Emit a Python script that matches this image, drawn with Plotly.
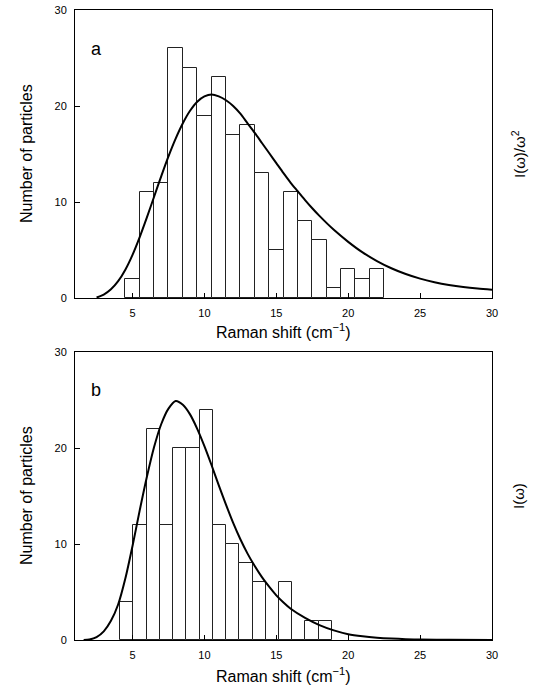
import plotly.graph_objects as go

# ---------------- data ----------------
# Panel a: histogram (bins of width 1 centred on integers)
a_bin_centers = [5, 6, 7, 8, 9, 10, 11, 12, 13, 14, 15, 16, 17, 18, 19, 20, 21, 22]
a_counts = [2, 11, 12, 26, 24, 19, 23, 17, 18, 13, 5, 11, 8, 6, 1, 3, 2, 3]
a_bin_width = 1.0

# Panel a: I(w)/w^2 curve
a_curve_x = [2.5, 3, 3.5, 4, 4.5, 5, 5.5, 6, 6.5, 7, 7.5, 8, 8.5, 9, 9.5, 10, 10.5, 11,
             11.5, 12, 12.5, 13, 13.5, 14, 14.5, 15, 15.5, 16, 16.5, 17, 17.5, 18, 19, 20,
             21, 22, 23, 24, 25, 26, 27, 28, 29, 30]
a_curve_y = [0.05, 0.35, 0.9, 1.75, 2.95, 4.5, 6.35, 8.4, 10.55, 12.7, 14.75, 16.6, 18.2,
             19.5, 20.45, 21.0, 21.2, 21.0, 20.6, 20.0, 19.2, 18.2, 17.2, 16.15, 15.1, 14.05,
             13.0, 12.0, 11.1, 10.2, 9.35, 8.55, 7.1, 5.85, 4.75, 3.85, 3.1, 2.5, 2.02, 1.65,
             1.36, 1.14, 0.98, 0.87]

# Panel b: histogram (bin edges)
b_bin_edges = [4.10, 5.05, 5.98, 6.88, 7.81, 8.74, 9.66, 10.59, 11.50, 12.43, 13.36,
               14.26, 15.16, 16.09, 17.02, 17.95, 18.87]
b_counts = [4, 12, 22, 12, 20, 20, 24, 12, 10, 8, 6, 0, 6, 0, 2, 2]

# Panel b: I(w) curve
b_curve_x = [1.6, 2.0, 2.5, 3.0, 3.5, 4.0, 4.5, 5.0, 5.5, 6.0, 6.5, 7.0, 7.5, 8.0, 8.5,
             9.0, 9.5, 10.0, 10.5, 11.0, 11.5, 12.0, 12.5, 13.0, 13.5, 14.0, 14.5, 15.0,
             15.5, 16.0, 17.0, 18.0, 19.0, 20.0, 21.0, 22.0, 23.0, 24.0, 25.0, 27.0, 30.0]
b_curve_y = [0.0, 0.05, 0.3, 0.9, 2.0, 3.7, 6.4, 9.8, 13.5, 17.0, 20.1, 22.5, 24.1, 24.9,
             24.5, 23.5, 22.0, 20.2, 18.2, 16.1, 14.1, 12.2, 10.5, 9.0, 7.7, 6.55, 5.55,
             4.65, 3.9, 3.25, 2.3, 1.55, 1.0, 0.6, 0.38, 0.24, 0.15, 0.09, 0.05, 0.02, 0.0]

x_ticks = [5, 10, 15, 20, 25, 30]
y_ticks = [0, 10, 20, 30]

# ---------------- figure ----------------
W, H = 536, 689
FONT = "Liberation Sans, Arial, Helvetica, sans-serif"

def px(x):
    return x / W

def py(y):
    return 1 - y / H

b_centers = [(b_bin_edges[i] + b_bin_edges[i + 1]) / 2 for i in range(len(b_counts))]
b_widths = [b_bin_edges[i + 1] - b_bin_edges[i] for i in range(len(b_counts))]

fig = go.Figure()

bar_style = dict(marker=dict(color="white", line=dict(color="#222222", width=1)),
                 showlegend=False, hoverinfo="x+y")
line_style = dict(mode="lines", line=dict(color="black", width=2, shape="spline", smoothing=0.8),
                  showlegend=False)

fig.add_trace(go.Bar(x=a_bin_centers, y=a_counts, width=[a_bin_width] * len(a_counts),
                     xaxis="x", yaxis="y", **bar_style))
fig.add_trace(go.Scatter(x=a_curve_x, y=a_curve_y, xaxis="x", yaxis="y", **line_style))
fig.add_trace(go.Bar(x=b_centers, y=b_counts, width=b_widths,
                     xaxis="x2", yaxis="y2", **bar_style))
fig.add_trace(go.Scatter(x=b_curve_x, y=b_curve_y, xaxis="x2", yaxis="y2", **line_style))

xdom = [px(75), px(492)]
axis_common = dict(showline=True, linecolor="black", linewidth=1, mirror=True,
                   ticks="inside", ticklen=5, tickwidth=1, tickcolor="black",
                   showgrid=False, zeroline=False, automargin=False,
                   tickfont=dict(family=FONT, size=11, color="black"))

fig.update_layout(
    width=W, height=H, autosize=False,
    margin=dict(l=0, r=0, t=0, b=0, pad=0),
    paper_bgcolor="white", plot_bgcolor="white",
    barmode="overlay", bargap=0,
    font=dict(family=FONT, color="black"),
    xaxis=dict(domain=xdom, anchor="y", range=[1, 30], tickvals=x_ticks,
               ticklabelstandoff=5, **axis_common),
    yaxis=dict(domain=[py(298), py(10)], anchor="x", range=[0, 30], tickvals=y_ticks,
               ticklabelstandoff=5, **axis_common),
    xaxis2=dict(domain=xdom, anchor="y2", range=[1, 30], tickvals=x_ticks,
                ticklabelstandoff=5, **axis_common),
    yaxis2=dict(domain=[py(640), py(352)], anchor="x2", range=[0, 30], tickvals=y_ticks,
                ticklabelstandoff=5, **axis_common),
)

ann = []
def add_text(text, x, y, size, angle=0):
    ann.append(dict(text=text, x=px(x), y=py(y), xref="paper", yref="paper",
                    showarrow=False, textangle=angle, xanchor="center", yanchor="middle",
                    font=dict(family=FONT, size=size, color="black")))

add_text("Number of particles", 26, 154, 16, -90)
add_text("Number of particles", 26, 496, 16, -90)
add_text("Raman shift (cm<sup>−1</sup>)", 283, 331, 16)
add_text("Raman shift (cm<sup>−1</sup>)", 283, 675, 16)
add_text("I(ω)/ω<sup>2</sup>", 518, 154, 15, -90)
add_text("I(ω)", 518, 496, 15, -90)
add_text("a", 96, 49, 18)
add_text("b", 96, 390, 18)
fig.update_layout(annotations=ann)

fig.write_html(
    "out.html",
    config={"displayModeBar": False},
    post_script="document.body.style.margin='0';document.body.style.padding='0';"
                "document.documentElement.style.overflow='hidden';",
)
